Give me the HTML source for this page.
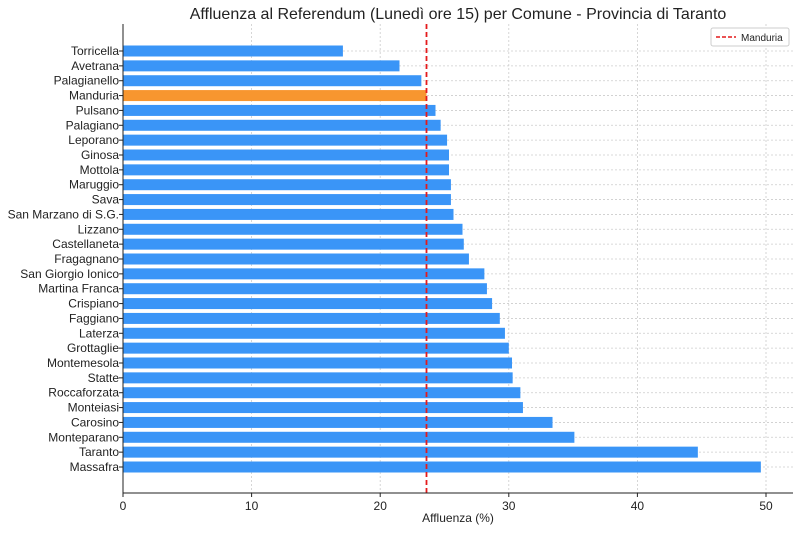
<!DOCTYPE html>
<html><head><meta charset="utf-8"><style>
body{margin:0;background:#fff;}
svg{font-family:"Liberation Sans","DejaVu Sans",sans-serif;}
</style></head><body>
<svg id="chart" width="800" height="531" viewBox="0 0 800 531">
<text x="458" y="19" text-anchor="middle" font-size="16" fill="#222">Affluenza al Referendum (Lunedì ore 15) per Comune - Provincia di Taranto</text>
<g id="grid"></g><g id="bars"></g><g id="axes"></g>
<text x="458" y="522" text-anchor="middle" font-size="12" fill="#222">Affluenza (%)</text>
<g>
<rect x="711" y="28" width="78" height="18" fill="#fff" stroke="#ccc" rx="2"/>
<line x1="716" y1="37" x2="736" y2="37" stroke="#e41a1c" stroke-width="1.5" stroke-dasharray="4,2"/>
<text x="741" y="41" font-size="10" fill="#222">Manduria</text>
</g>
</svg>
<script>
const categories=["Torricella","Avetrana","Palagianello","Manduria","Pulsano","Palagiano","Leporano","Ginosa","Mottola","Maruggio","Sava","San Marzano di S.G.","Lizzano","Castellaneta","Fragagnano","San Giorgio Ionico","Martina Franca","Crispiano","Faggiano","Laterza","Grottaglie","Montemesola","Statte","Roccaforzata","Monteiasi","Carosino","Monteparano","Taranto","Massafra"];
const values=[17.1,21.5,23.2,23.6,24.3,24.7,25.2,25.35,25.35,25.5,25.5,25.7,26.4,26.5,26.9,28.1,28.3,28.7,29.3,29.7,30.0,30.25,30.3,30.9,31.1,33.4,35.1,44.7,49.6];
const xTicks=[0,10,20,30,40,50];
const highlight="Manduria";
const ns="http://www.w3.org/2000/svg";
const L=123,R=793,T=24,B=493;
const x=v=>L+v*12.86;
const step=(467-51)/(categories.length-1);
const y=i=>51+i*step;
function mk(tag,attrs,parent){const e=document.createElementNS(ns,tag);for(const k in attrs)e.setAttribute(k,attrs[k]);parent.appendChild(e);return e;}
const grid=document.getElementById('grid'),bars=document.getElementById('bars'),axes=document.getElementById('axes');
xTicks.forEach(t=>{
 const g=mk('line',{x1:x(t),x2:x(t),y1:T,y2:B,stroke:'#ccc','stroke-dasharray':'2,2','stroke-width':0.8},grid);
 
 
 mk('line',{x1:x(t),x2:x(t),y1:B,y2:B+4,stroke:'#222'},axes);
 const tx=mk('text',{x:x(t),y:B+17,'text-anchor':'middle','font-size':12,fill:'#222'},axes);
 tx.textContent=t;
 
 
});
categories.forEach((c,i)=>{
 const gl=mk('line',{x1:L,x2:R,y1:y(i),y2:y(i),stroke:'#ccc','stroke-dasharray':'2,2','stroke-width':0.8},grid);
 
 
 const r=mk('rect',{x:L,y:y(i)-5.5,width:x(values[i])-L,height:11,fill:c===highlight?'#f7962f':'#3a95f7'},bars);
 
 
 mk('line',{x1:L-4,x2:L,y1:y(i),y2:y(i),stroke:'#222'},axes);
 const t=mk('text',{x:L-4,y:y(i)+4,'text-anchor':'end','font-size':12,fill:'#222'},axes);
 t.textContent=c;
 
 
});
const hv=values[categories.indexOf(highlight)];
const rl=mk('line',{x1:x(hv),x2:x(hv),y1:T,y2:B,stroke:'#e41a1c','stroke-width':1.8,'stroke-dasharray':'5,3'},bars);


mk('line',{x1:L,x2:L,y1:T,y2:B,stroke:'#222'},axes);
mk('line',{x1:L,x2:R,y1:B,y2:B,stroke:'#222'},axes);
</script>
</body></html>
